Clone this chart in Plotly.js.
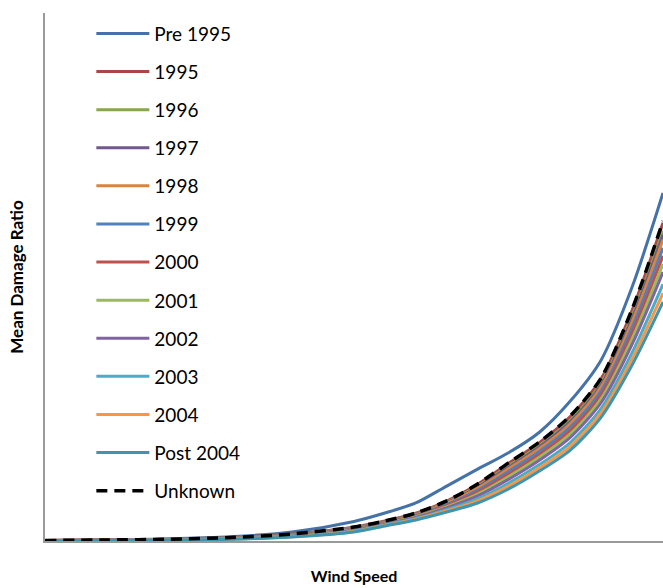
<!DOCTYPE html>
<html>
<head>
<meta charset="utf-8">
<script src="https://cdn.plot.ly/plotly-3.0.1.min.js"></script>
<style>html,body{margin:0;padding:0;background:#fff;}#chart{width:663px;height:588px;}</style>
</head>
<body>
<div id="chart"></div>
<script>
// Wind speed positions (x axis has no tick labels in the original)
var windSpeed = [0, 20, 40, 60, 80, 100, 110, 120, 130, 140, 150, 160, 170, 180, 190, 200];

var seriesNames = ["Pre 1995", "1995", "1996", "1997", "1998", "1999", "2000", "2001", "2002", "2003", "2004", "Post 2004", "Unknown"];

var pre1995  = [0.0010, 0.0020, 0.0040, 0.0080, 0.0170, 0.0370, 0.0530, 0.0720, 0.1040, 0.1360, 0.1670, 0.2060, 0.2650, 0.3430, 0.4810, 0.6590];
var y1995    = [0.0010, 0.0020, 0.0034, 0.0065, 0.0132, 0.0263, 0.0378, 0.0527, 0.0756, 0.1073, 0.1470, 0.1864, 0.2357, 0.3075, 0.4369, 0.6029];
var y1996    = [0.0009, 0.0019, 0.0032, 0.0062, 0.0126, 0.0254, 0.0369, 0.0514, 0.0735, 0.1037, 0.1421, 0.1809, 0.2292, 0.3001, 0.4263, 0.5876];
var y1997    = [0.0009, 0.0018, 0.0031, 0.0060, 0.0123, 0.0249, 0.0364, 0.0508, 0.0724, 0.1019, 0.1396, 0.1782, 0.2260, 0.2964, 0.4210, 0.5799];
var y1998    = [0.0009, 0.0017, 0.0030, 0.0058, 0.0120, 0.0243, 0.0358, 0.0500, 0.0711, 0.0997, 0.1366, 0.1749, 0.2221, 0.2919, 0.4147, 0.5707];
var y1999    = [0.0008, 0.0016, 0.0028, 0.0055, 0.0114, 0.0234, 0.0348, 0.0486, 0.0690, 0.0961, 0.1317, 0.1694, 0.2157, 0.2845, 0.4041, 0.5554];
var y2000    = [0.0007, 0.0015, 0.0027, 0.0051, 0.0109, 0.0224, 0.0339, 0.0473, 0.0669, 0.0925, 0.1267, 0.1639, 0.2092, 0.2771, 0.3936, 0.5401];
var y2001    = [0.0007, 0.0014, 0.0025, 0.0048, 0.0103, 0.0215, 0.0329, 0.0460, 0.0648, 0.0889, 0.1218, 0.1584, 0.2027, 0.2697, 0.3830, 0.5248];
var y2002    = [0.0006, 0.0012, 0.0023, 0.0045, 0.0097, 0.0205, 0.0320, 0.0447, 0.0627, 0.0853, 0.1168, 0.1529, 0.1962, 0.2623, 0.3724, 0.5094];
var y2003    = [0.0005, 0.0011, 0.0021, 0.0040, 0.0089, 0.0191, 0.0305, 0.0427, 0.0595, 0.0799, 0.1094, 0.1447, 0.1865, 0.2511, 0.3566, 0.4864];
var y2004    = [0.0005, 0.0009, 0.0019, 0.0036, 0.0082, 0.0180, 0.0295, 0.0413, 0.0572, 0.0760, 0.1039, 0.1386, 0.1794, 0.2430, 0.3449, 0.4696];
var post2004 = [0.0004, 0.0008, 0.0017, 0.0032, 0.0076, 0.0170, 0.0284, 0.0398, 0.0549, 0.0720, 0.0985, 0.1326, 0.1723, 0.2348, 0.3333, 0.4527];
var unknown  = [0.0010, 0.0020, 0.0034, 0.0066, 0.0133, 0.0265, 0.0380, 0.0530, 0.0760, 0.1080, 0.1480, 0.1875, 0.2370, 0.3090, 0.4390, 0.6060];

var seriesValues = [pre1995, y1995, y1996, y1997, y1998, y1999, y2000, y2001, y2002, y2003, y2004, post2004, unknown];
var seriesColors = ["#4572A7", "#AA4643", "#89A54E", "#71588F", "#DB843D", "#4F81BD", "#C0504D", "#9BBB59", "#8064A2", "#4BACC6", "#F79646", "#3D96AE", "#000000"];

var traces = seriesNames.map(function (name, i) {
  var isUnknown = name === "Unknown";
  return {
    type: "scatter",
    mode: "lines",
    name: name,
    x: windSpeed,
    y: seriesValues[i],
    legendgroup: "g" + i,
    line: {
      color: seriesColors[i],
      width: isUnknown ? 3.5 : 3,
      dash: isUnknown ? "11px,7px" : "solid",
      shape: "spline",
      smoothing: 0.8
    },
    hoverinfo: "skip"
  };
});

var layout = {
  width: 663,
  height: 588,
  margin: {l: 45, r: 0, t: 13, b: 47, pad: 0},
  paper_bgcolor: "#ffffff",
  plot_bgcolor: "#ffffff",
  font: {family: "Lato, 'Open Sans', sans-serif", color: "#000000", size: 19},
  showlegend: true,
  legend: {
    x: 0.075, xanchor: "left",
    y: 0.997, yanchor: "top",
    bgcolor: "rgba(0,0,0,0)",
    traceorder: "grouped",
    tracegroupgap: 10.4,
    itemwidth: 53,
    font: {family: "Lato, 'Open Sans', sans-serif", size: 19, color: "#000000"}
  },
  xaxis: {
    range: [0, 200],
    showline: true, linecolor: "#9a9a9a", linewidth: 2,
    showgrid: false, zeroline: false, ticks: "", showticklabels: false,
    title: {text: "Wind Speed", font: {family: "Lato, sans-serif", size: 16, weight: "bold", color: "#000"}, standoff: 29}
  },
  yaxis: {
    range: [0, 1],
    showline: true, linecolor: "#9a9a9a", linewidth: 2,
    showgrid: false, zeroline: false, ticks: "", showticklabels: false,
    title: {text: "Mean Damage Ratio", font: {family: "Lato, sans-serif", size: 17, weight: "bold", color: "#000"}, standoff: 15}
  }
};

Plotly.newPlot("chart", traces, layout, {displayModeBar: false, staticPlot: true});
</script>
</body>
</html>
